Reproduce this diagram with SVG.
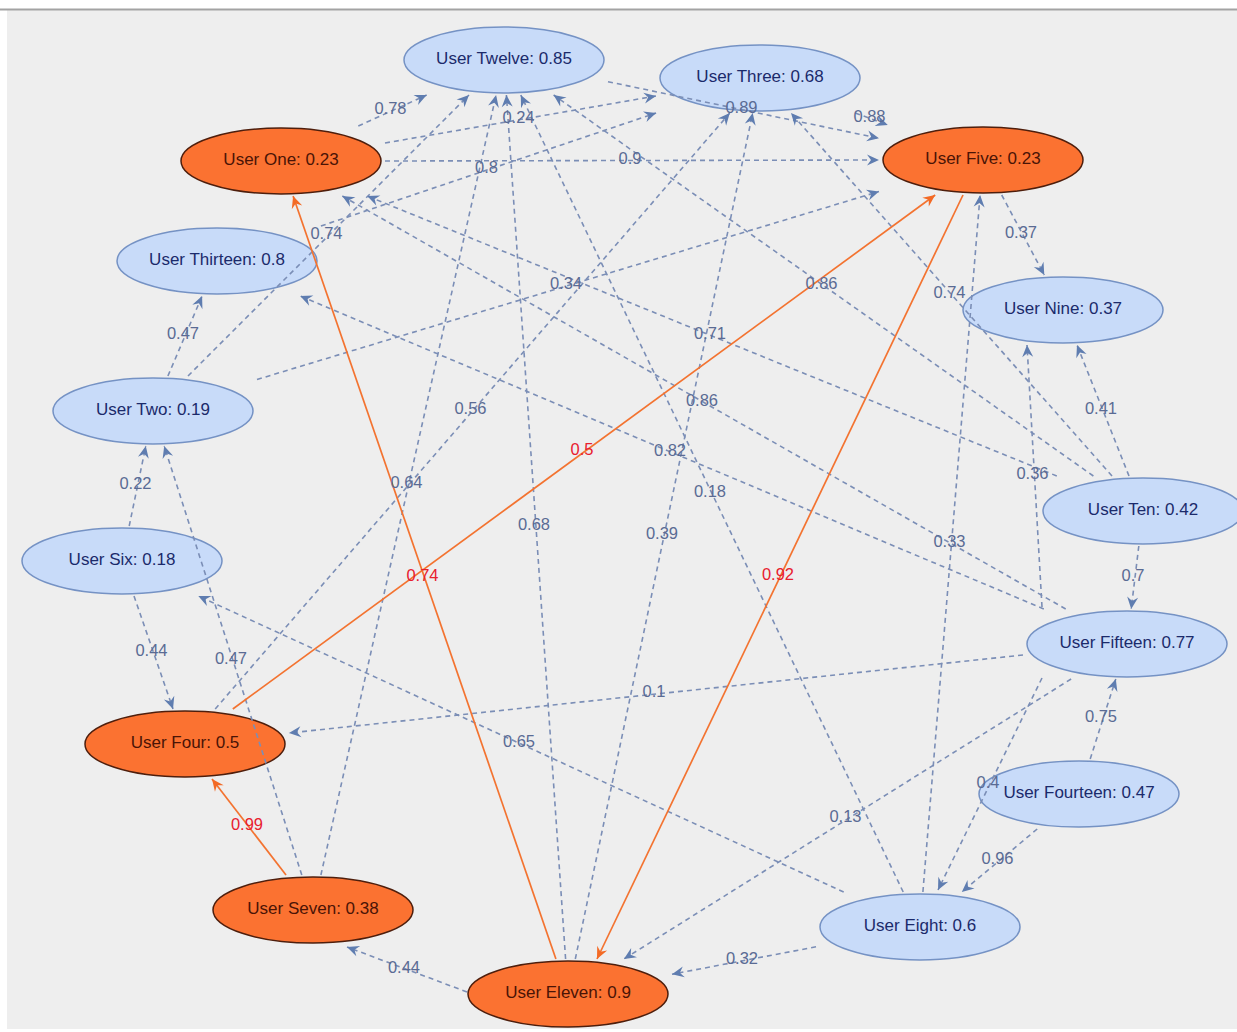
<svg xmlns="http://www.w3.org/2000/svg" width="1237" height="1032" viewBox="0 0 1237 1032">
<defs>
<style>
.ed{stroke:#7b8eb6;stroke-width:1.6;stroke-dasharray:5 4;fill:none;marker-end:url(#ab)}
.er{stroke:#f37330;stroke-width:1.7;fill:none;marker-end:url(#ar)}
.lb{font-family:"Liberation Sans",Arial,sans-serif;font-size:16.5px;fill:#5a6b94;text-anchor:middle}
.lr{font-family:"Liberation Sans",Arial,sans-serif;font-size:16.5px;fill:#e8202e;text-anchor:middle}
.nb ellipse{fill:#c8dbf9;stroke:#7592c4;stroke-width:1.5}
.no ellipse{fill:#fb7231;stroke:#4e1e0c;stroke-width:1.5}
.nb text,.no text{font-family:"Liberation Sans",Arial,sans-serif;font-size:17px;text-anchor:middle}
.nb text{fill:#1b2a6b}
.no text{fill:#4a1406}
</style>
<marker id="ab" viewBox="-13 -7 14 14" refX="0" refY="0" markerWidth="14" markerHeight="14" markerUnits="userSpaceOnUse" orient="auto">
<path d="M0,0 L-12,-5.5 L-8,0 L-12,5.5 Z" fill="#5f7db0"/>
</marker>
<marker id="ar" viewBox="-13 -7 14 14" refX="0" refY="0" markerWidth="14" markerHeight="14" markerUnits="userSpaceOnUse" orient="auto">
<path d="M0,0 L-12,-5.5 L-8,0 L-12,5.5 Z" fill="#f36a25"/>
</marker>
</defs>
<rect x="0" y="0" width="1237" height="1032" fill="#ffffff"/>
<rect x="7" y="10" width="1230" height="1019" fill="#eeeeee"/>
<line x1="0" y1="9.5" x2="1237" y2="9.5" stroke="#a3a3a3" stroke-width="2"/>

<g id="nodes">
<g id="node-twelve" class="nb"><ellipse cx="504" cy="60" rx="100" ry="33"/><text x="504" y="64">User Twelve: 0.85</text></g>
<g id="node-three" class="nb"><ellipse cx="760" cy="78" rx="100" ry="33"/><text x="760" y="82">User Three: 0.68</text></g>
<g id="node-five" class="no"><ellipse cx="983" cy="160" rx="100" ry="33"/><text x="983" y="164">User Five: 0.23</text></g>
<g id="node-one" class="no"><ellipse cx="281" cy="161" rx="100" ry="33"/><text x="281" y="165">User One: 0.23</text></g>
<g id="node-thirteen" class="nb"><ellipse cx="217" cy="261" rx="100" ry="33"/><text x="217" y="265">User Thirteen: 0.8</text></g>
<g id="node-nine" class="nb"><ellipse cx="1063" cy="310" rx="100" ry="33"/><text x="1063" y="314">User Nine: 0.37</text></g>
<g id="node-two" class="nb"><ellipse cx="153" cy="411" rx="100" ry="33"/><text x="153" y="415">User Two: 0.19</text></g>
<g id="node-ten" class="nb"><ellipse cx="1143" cy="511" rx="100" ry="33"/><text x="1143" y="515">User Ten: 0.42</text></g>
<g id="node-six" class="nb"><ellipse cx="122" cy="561" rx="100" ry="33"/><text x="122" y="565">User Six: 0.18</text></g>
<g id="node-fifteen" class="nb"><ellipse cx="1127" cy="644" rx="100" ry="33"/><text x="1127" y="648">User Fifteen: 0.77</text></g>
<g id="node-four" class="no"><ellipse cx="185" cy="744" rx="100" ry="33"/><text x="185" y="748">User Four: 0.5</text></g>
<g id="node-fourteen" class="nb"><ellipse cx="1079" cy="794" rx="100" ry="33"/><text x="1079" y="798">User Fourteen: 0.47</text></g>
<g id="node-seven" class="no"><ellipse cx="313" cy="910" rx="100" ry="33"/><text x="313" y="914">User Seven: 0.38</text></g>
<g id="node-eight" class="nb"><ellipse cx="920" cy="927" rx="100" ry="33"/><text x="920" y="931">User Eight: 0.6</text></g>
<g id="node-eleven" class="no"><ellipse cx="568" cy="994" rx="100" ry="33"/><text x="568" y="998">User Eleven: 0.9</text></g>
</g>

<g id="connectors">
<line class="ed" x1="358.3" y1="126" x2="426.7" y2="95"/>
<line class="ed" x1="385" y1="143" x2="656" y2="96"/>
<line class="ed" x1="608" y1="81.7" x2="879" y2="138.3"/>
<line class="ed" x1="855.2" y1="113" x2="887.8" y2="125"/>
<line class="ed" x1="320.9" y1="226" x2="656.1" y2="113"/>
<line class="ed" x1="385" y1="161" x2="879" y2="160"/>
<line class="ed" x1="188" y1="376" x2="469" y2="95"/>
<line class="ed" x1="1001.7" y1="195" x2="1044.3" y2="275"/>
<line class="ed" x1="257" y1="379.5" x2="879" y2="191.5"/>
<line class="ed" x1="1093.4" y1="476" x2="553.6" y2="95"/>
<line class="ed" x1="1112" y1="476" x2="791" y2="113"/>
<line class="ed" x1="167.9" y1="376" x2="202.1" y2="296"/>
<line class="ed" x1="1056.8" y1="476" x2="367.2" y2="196"/>
<line class="ed" x1="215.2" y1="709" x2="729.8" y2="113"/>
<line class="ed" x1="1065.7" y1="609" x2="342.3" y2="196"/>
<line class="ed" x1="1129" y1="476" x2="1077" y2="345"/>
<line class="ed" x1="1043.8" y1="609" x2="300.2" y2="296"/>
<line class="ed" x1="1042" y1="607" x2="1027" y2="345"/>
<line class="ed" x1="129.2" y1="526" x2="145.8" y2="446"/>
<line class="ed" x1="320.9" y1="875" x2="496.1" y2="95"/>
<line class="ed" x1="903.2" y1="892" x2="520.8" y2="95"/>
<line class="ed" x1="565.6" y1="959" x2="506.4" y2="95"/>
<line class="ed" x1="575.3" y1="959" x2="752.7" y2="113"/>
<line class="ed" x1="922.9" y1="892" x2="980.1" y2="195"/>
<line class="ed" x1="1138.8" y1="546" x2="1131.2" y2="609"/>
<line class="ed" x1="134" y1="596" x2="173" y2="709"/>
<line class="ed" x1="301.8" y1="875" x2="164.2" y2="446"/>
<line class="ed" x1="1023" y1="655" x2="289" y2="733"/>
<line class="ed" x1="1090.2" y1="759" x2="1115.8" y2="679"/>
<line class="ed" x1="843.7" y1="892" x2="198.3" y2="596"/>
<line class="ed" x1="1042" y1="678" x2="938" y2="890"/>
<line class="ed" x1="1071.1" y1="679" x2="623.9" y2="959"/>
<line class="ed" x1="1037.2" y1="829" x2="961.8" y2="892"/>
<line class="ed" x1="467" y1="992" x2="347" y2="947"/>
<line class="ed" x1="816" y1="946.8" x2="672" y2="974.2"/>
<line class="er" x1="232.8" y1="709" x2="935.2" y2="195"/>
<line class="er" x1="555.9" y1="959" x2="293.1" y2="196"/>
<line class="er" x1="963" y1="195" x2="597" y2="959"/>
<line class="er" x1="286" y1="875" x2="212" y2="779"/>
</g>

<g id="edge-labels">
<text class="lb" x="390.5" y="113.5">0.78</text>
<text class="lb" x="518.5" y="122.5">0.24</text>
<text class="lb" x="741.5" y="113">0.89</text>
<text class="lb" x="869.5" y="122">0.88</text>
<text class="lb" x="486.5" y="172.5">0.8</text>
<text class="lb" x="630" y="163.5">0.9</text>
<text class="lb" x="326.5" y="238.5">0.74</text>
<text class="lb" x="1021" y="238">0.37</text>
<text class="lb" x="566" y="288.5">0.34</text>
<text class="lb" x="821.5" y="288.5">0.86</text>
<text class="lb" x="949.5" y="297.5">0.74</text>
<text class="lb" x="183" y="339">0.47</text>
<text class="lb" x="710" y="339">0.71</text>
<text class="lb" x="470.5" y="414">0.56</text>
<text class="lb" x="702" y="405.5">0.86</text>
<text class="lb" x="1101" y="413.5">0.41</text>
<text class="lb" x="670" y="455.5">0.82</text>
<text class="lb" x="1032.5" y="479">0.36</text>
<text class="lb" x="135.5" y="489">0.22</text>
<text class="lb" x="406.5" y="488">0.64</text>
<text class="lb" x="710" y="496.5">0.18</text>
<text class="lb" x="534" y="530">0.68</text>
<text class="lb" x="662" y="539">0.39</text>
<text class="lb" x="949.5" y="546.5">0.33</text>
<text class="lb" x="1133" y="580.5">0.7</text>
<text class="lb" x="151.5" y="655.5">0.44</text>
<text class="lb" x="231" y="663.5">0.47</text>
<text class="lb" x="654" y="697">0.1</text>
<text class="lb" x="1101" y="722">0.75</text>
<text class="lb" x="519" y="747">0.65</text>
<text class="lb" x="988" y="788">0.4</text>
<text class="lb" x="845.5" y="822">0.13</text>
<text class="lb" x="997.5" y="863.5">0.96</text>
<text class="lb" x="404" y="973">0.44</text>
<text class="lb" x="742" y="963.5">0.32</text>
<text class="lr" x="582" y="455">0.5</text>
<text class="lr" x="422.5" y="580.5">0.74</text>
<text class="lr" x="778" y="580">0.92</text>
<text class="lr" x="247" y="830">0.99</text>
</g>
</svg>
